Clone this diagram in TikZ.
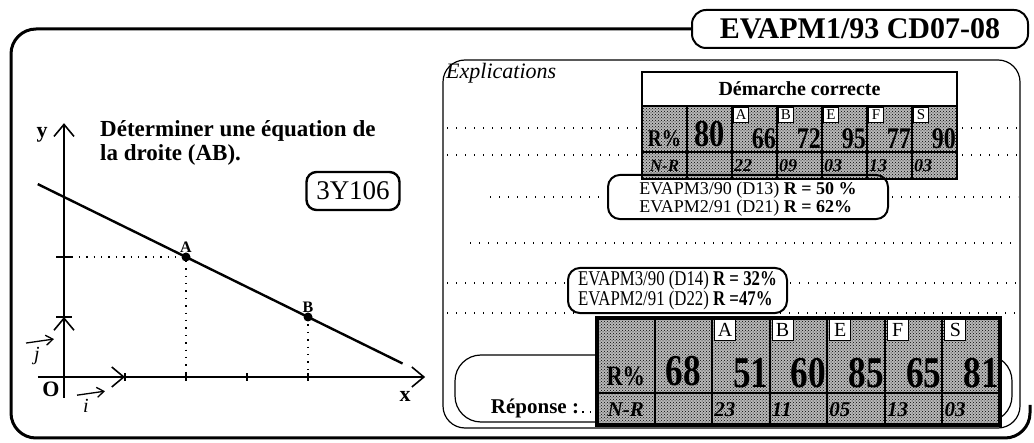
\documentclass[tikz,border=0pt]{standalone}
\usepackage{fontspec}
\setmainfont{Liberation Serif}
\newfontfamily\condfont{Liberation Serif}[FakeStretch=0.8]
\usepackage{amsmath}
\usetikzlibrary{arrows.meta, positioning, patterns}

\tikzset{
  cadre/.style={line width=3pt, rounded corners=25pt},
  stipple/.style={preaction={fill=black!28}, pattern=crosshatch dots,
    pattern color=black},
  pointille/.style={dash pattern=on 1.4pt off 7.6pt, line width=1.3pt},
  lettre/.style={draw, fill=white, line width=0.9pt, inner sep=1pt,
    minimum width=#1, minimum height=#1, anchor=north west},
  bulle/.style={draw, line width=2pt, rounded corners=12pt, align=left,
    inner sep=3pt},
  axe/.style={line width=1.6pt,
    -{Straight Barb[length=12pt, width=20pt, line width=1.6pt]}},
  vecteur/.style={line width=1.3pt,
    -{Straight Barb[length=7pt, width=10pt, line width=1.3pt]}},
}

\begin{document}
\begin{tikzpicture}[x=1pt, y=-1pt]
  \useasboundingbox (0,0) rectangle (1034,443);

  % Title
  \node[draw, line width=2pt, rounded corners=14pt, minimum width=336pt,
    minimum height=38pt, font=\fontsize{30}{30}\selectfont\bfseries]
    (titre) at (860,29) {EVAPM1/93 CD07-08};

  % Outer frame
  \draw[cadre] (titre.west) -- (11,29) -- (11,438) -- (1030,438) -- (1030,405);

  % Coordinate axes
  \begin{scope}[shift={(64,377)}, x=61pt, y=60pt]
    \coordinate (O) at (0,0);
    \coordinate (xdeb) at (-0.43,0);
    \coordinate (xfin) at (5.92,0);
    \coordinate (ydeb) at (0,-0.35);
    \coordinate (yfin) at (0,4.23);
    \coordinate (ivec) at (1,0);
    \coordinate (jvec) at (0,1);
    \coordinate (A) at (2,2);
    \coordinate (B) at (4,1);
    \coordinate (Ay) at (0,2);
    \coordinate (Ax) at (2,0);
    \coordinate (Bx) at (4,0);
    \coordinate (ddeb) at (-0.43,3.215);
    \coordinate (dfin) at (5.55,0.225);

    \draw[axe] (xdeb) -- (xfin);
    \draw[axe] (ydeb) -- (yfin);
    \draw[axe, line width=2.6pt] (O) -- (ivec);
    \draw[axe, line width=2.6pt] (O) -- (jvec);
    \foreach \t in {1,...,4}
      \draw[line width=1.6pt] (\t,-0.06) -- (\t,0.06);
    \foreach \t in {1,2}
      \draw[line width=1.6pt] (-0.13,\t) -- (0.13,\t);

    % Line (AB)
    \draw[line width=2.4pt] (ddeb) -- (dfin);
    \draw[dash pattern=on 1.4pt off 6pt, line width=1.3pt] (Ay) -- (A) -- (Ax);
    \draw[dash pattern=on 1.4pt off 6pt, line width=1.3pt] (B) -- (Bx);
    \fill (A) circle (4.5pt);
    \fill (B) circle (4.5pt);
    \node[above=4pt of A, inner sep=0pt, font=\fontsize{16}{16}\selectfont\bfseries] (labA) {A};
    \node[above=4pt of B, inner sep=0pt, font=\fontsize{16}{16}\selectfont\bfseries] (labB) {B};
  \end{scope}

  \node[inner sep=0pt, font=\fontsize{22}{22}\selectfont\bfseries] (laby) at (42,135) {y};
  \node[inner sep=0pt, font=\fontsize{22}{22}\selectfont\bfseries] (labx) at (405,396) {x};
  \node[inner sep=0pt, font=\fontsize{22}{22}\selectfont\bfseries] (labO) at (51,389) {O};

  % Unit vectors labels
  \node[inner sep=0pt, font=\fontsize{20}{20}\selectfont\itshape] (labi) at (86,406) {i};
  \node[inner sep=0pt, font=\fontsize{20}{20}\selectfont\itshape] (labj) at (37,356) {j};
  \draw[vecteur] ([xshift=-6pt, yshift=4pt]labi.north west) -- ([xshift=16pt, yshift=8pt]labi.north east);
  \draw[vecteur] ([xshift=-8pt, yshift=4pt]labj.north west) -- ([xshift=14pt, yshift=8pt]labj.north east);

  % Question
  \node[anchor=base west, inner sep=0pt, font=\fontsize{23}{23}\selectfont\bfseries]
    (question) at (100,137) {Déterminer une équation de};
  \node[anchor=base west, inner sep=0pt, font=\fontsize{23}{23}\selectfont\bfseries]
    (question2) at (100,161) {la droite (AB).};
  \node[draw, line width=2.4pt, rounded corners=10pt, minimum width=93pt,
    minimum height=38pt, inner sep=0pt, font=\fontsize{27}{27}\selectfont]
    (code) at (353,191) {3Y106};

  % Explications panel
  \draw[line width=1.2pt, rounded corners=22pt] (443,60) rectangle (1020,428);
  \node[anchor=north west, inner sep=1pt, font=\fontsize{22}{22}\selectfont\itshape]
    (expl) at (445,62) {Explications};

  % Dotted lines
  \draw[pointille] (447,128) -- (640,128);  \draw[pointille] (962,128) -- (1018,128);
  \draw[pointille] (447,155) -- (640,155);  \draw[pointille] (962,155) -- (1018,155);
  \draw[pointille] (490,197) -- (605,197);  \draw[pointille] (892,197) -- (1018,197);
  \draw[pointille] (470,243) -- (1018,243);
  \draw[pointille] (447,283) -- (567,283);  \draw[pointille] (790,283) -- (1018,283);
  \draw[pointille] (447,313) -- (1018,313);

  % Table: Démarche correcte
  \fill[stipple] (642,106) rectangle (957,179);
  \draw[line width=2pt, fill=white] (642,72) rectangle (957,106);
  \node[font=\fontsize{20}{20}\selectfont\bfseries] (dc-titre) at (799.5,89) {Démarche correcte};
  \foreach \c in {1,...,6}
    \draw[line width=2pt] (642+45*\c,106) -- (642+45*\c,179);
  \draw[line width=2pt] (642,152) -- (957,152);
  \draw[line width=2.6pt] (642,72) rectangle (957,179);
  \node[anchor=base, font=\condfont\fontsize{24}{24}\selectfont\bfseries] (dc-r) at (664.5,147) {R\%};
  \node[anchor=base, font=\condfont\fontsize{38}{38}\selectfont\bfseries] (dc-r1) at (709.5,147) {80};
  \node[font=\fontsize{17}{17}\selectfont\bfseries\itshape] (dc-n) at (664.5,166) {N-R};
  \foreach \lettre/\val/\nr [count=\c from 2] in {A/66/22, B/72/09, E/95/03, F/77/13, S/90/03} {
    \node[lettre=15pt, font=\fontsize{15}{15}\selectfont] (dc-h\c) at (642+45*\c+1,107) {\lettre};
    \node[anchor=base east, inner sep=1pt, font=\condfont\fontsize{30}{30}\selectfont\bfseries]
      (dc-r\c) at (642+45*\c+45,149) {\val};
    \node[anchor=west, inner sep=2pt, font=\fontsize{18}{18}\selectfont\bfseries\itshape]
      (dc-n\c) at (642+45*\c,166) {\nr};
  }

  % First results
  \node[bulle, minimum width=280pt, minimum height=36pt, font=\fontsize{18}{15}\selectfont]
    (res1) at (748,197) {\rule{0pt}{17pt}EVAPM3/90 (D13) \textbf{R = 50 \%}\\EVAPM2/91 (D21) \textbf{R = 62\%}};
  \node[bulle, minimum width=219pt, minimum height=45pt, font=\condfont\fontsize{21}{18}\selectfont]
    (res2) at (677.5,290.5) {EVAPM3/90 (D14) \textbf{R = 32\%}\\EVAPM2/91 (D22) \textbf{R =47\%}};

  % Réponse
  \draw[line width=1.2pt, rounded corners=26pt] (455,355) rectangle (1012,422);
  \node[font=\fontsize{21}{21}\selectfont\bfseries] (reponse) at (535,408) {Réponse :};
  \draw[dash pattern=on 1.4pt off 6pt, line width=1.3pt] (575,412) -- (597,412);
  \fill[stipple] (597,318) rectangle (1000,425);
  \foreach \c in {1,...,6}
    \draw[line width=2pt] (597+57.57*\c,318) -- (597+57.57*\c,425);
  \draw[line width=2pt] (597,393) -- (1000,393);
  \draw[line width=3.2pt] (597,318) rectangle (1000,425);
  \node[anchor=base, font=\condfont\fontsize{28}{28}\selectfont\bfseries] (rep-r) at (625.8,386) {R\%};
  \node[anchor=base, font=\condfont\fontsize{44}{44}\selectfont\bfseries] (rep-r1) at (683.5,386) {68};
  \node[font=\fontsize{21}{21}\selectfont\bfseries\itshape] (rep-n) at (625.8,410) {N-R};
  \foreach \lettre/\val/\nr [count=\c from 2] in {A/51/23, B/60/11, E/85/05, F/65/13, S/81/03} {
    \node[lettre=21pt, font=\fontsize{20}{20}\selectfont] (rep-h\c) at (597+57.57*\c+2,319) {\lettre};
    \node[anchor=base east, inner sep=1pt, font=\condfont\fontsize{44}{44}\selectfont\bfseries]
      (rep-r\c) at (597+57.57*\c+57.57,388) {\val};
    \node[anchor=west, inner sep=2pt, font=\fontsize{21}{21}\selectfont\bfseries\itshape]
      (rep-n\c) at (597+57.57*\c,410) {\nr};
  }
\end{tikzpicture}
\end{document}
